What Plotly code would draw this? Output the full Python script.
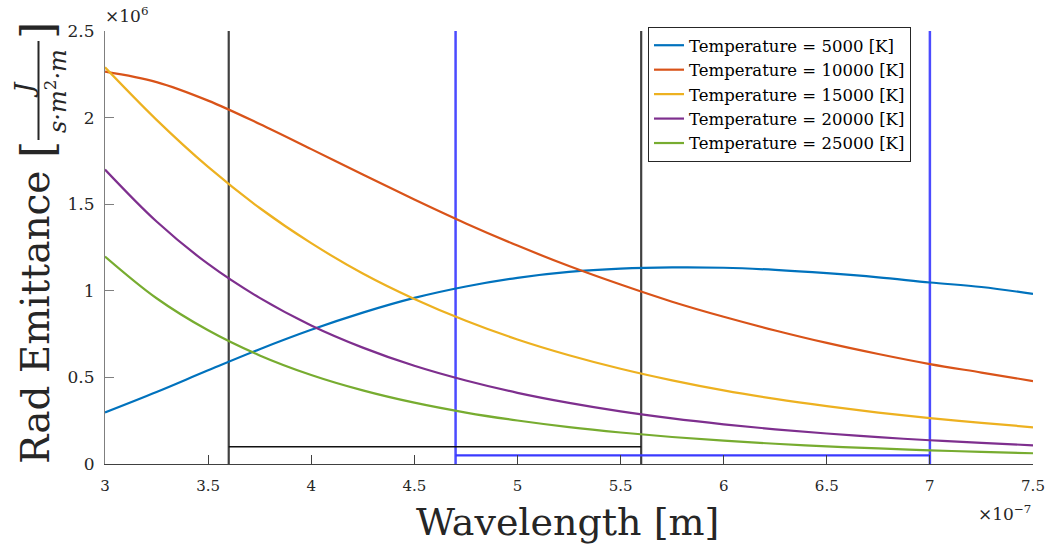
import plotly.graph_objects as go

# wavelength in units of 1e-7 m
wavelength = [3.0, 3.25, 3.5, 3.75, 4.0, 4.25, 4.5, 4.75, 5.0, 5.25, 5.5, 5.75,
              6.0, 6.25, 6.5, 6.75, 7.0, 7.25, 7.5]
# radiant emittance in units of 1e6
t5000 = [0.298, 0.416, 0.541, 0.663, 0.775, 0.874, 0.959, 1.025, 1.075, 1.109, 1.128, 1.135,
         1.133, 1.121, 1.102, 1.078, 1.048, 1.022, 0.982]
t10000 = [2.265, 2.205, 2.098, 1.963, 1.818, 1.671, 1.527, 1.389, 1.261, 1.143, 1.036, 0.937,
          0.850, 0.771, 0.699, 0.635, 0.577, 0.528, 0.479]
t15000 = [2.290, 1.987, 1.715, 1.478, 1.275, 1.100, 0.953, 0.827, 0.719, 0.628, 0.550, 0.483,
          0.425, 0.376, 0.334, 0.297, 0.265, 0.238, 0.212]
t20000 = [1.700, 1.400, 1.155, 0.959, 0.800, 0.672, 0.567, 0.482, 0.411, 0.353, 0.304, 0.263,
          0.229, 0.200, 0.176, 0.155, 0.137, 0.122, 0.108]
t25000 = [1.198, 0.957, 0.772, 0.627, 0.514, 0.425, 0.354, 0.297, 0.251, 0.213, 0.182, 0.156,
          0.135, 0.117, 0.102, 0.090, 0.079, 0.070, 0.062]
series_names = ["Temperature = 5000 [K]", "Temperature = 10000 [K]", "Temperature = 15000 [K]",
                "Temperature = 20000 [K]", "Temperature = 25000 [K]"]
series_colors = ["#0072BD", "#D95319", "#EDB120", "#7E2F8E", "#77AC30"]

# band markers
gray_band = [3.6, 5.6]
gray_band_level = 0.1
blue_band = [4.7, 7.0]
blue_band_level = 0.05
y_top = 2.5

x_ticks = [3, 3.5, 4, 4.5, 5, 5.5, 6, 6.5, 7, 7.5]
x_tick_text = ["3", "3.5", "4", "4.5", "5", "5.5", "6", "6.5", "7", "7.5"]
y_ticks = [0, 0.5, 1, 1.5, 2, 2.5]
y_tick_text = ["0", "0.5", "1", "1.5", "2", "2.5"]

SERIF = "DejaVu Serif"
TXT = "#262626"
fig = go.Figure()

# vertical band lines
for xv in gray_band:
    fig.add_trace(go.Scatter(x=[xv, xv], y=[0, y_top], mode="lines",
                             line=dict(color="#404040", width=2.2), showlegend=False, hoverinfo="skip"))
for xv in blue_band:
    fig.add_trace(go.Scatter(x=[xv, xv], y=[0, y_top], mode="lines",
                             line=dict(color="#4B4BFF", width=2.5), showlegend=False, hoverinfo="skip"))
fig.add_trace(go.Scatter(x=gray_band, y=[gray_band_level] * 2, mode="lines",
                         line=dict(color="#111111", width=1.6), showlegend=False, hoverinfo="skip"))
fig.add_trace(go.Scatter(x=blue_band, y=[blue_band_level] * 2, mode="lines",
                         line=dict(color="#3A3AFF", width=2.2), showlegend=False, hoverinfo="skip"))

for name, ys, col in zip(series_names, [t5000, t10000, t15000, t20000, t25000], series_colors):
    fig.add_trace(go.Scatter(x=wavelength, y=ys, mode="lines", name=name,
                             line=dict(color=col, width=2.2, shape="spline", smoothing=1.0)))

L, R, T, B = 105, 17, 31, 90
W, H = 1050, 554
pw, ph = W - L - R, H - T - B
def px(xp):
    return (xp - L) / pw
def py(yp):
    return (H - B - yp) / ph

fig.update_layout(
    width=W, height=H,
    margin=dict(l=L, r=R, t=T, b=B, autoexpand=False),
    paper_bgcolor="white", plot_bgcolor="white",
    font=dict(family=SERIF, size=16, color=TXT),
    legend=dict(x=px(648), y=py(27), xanchor="left", yanchor="top",
                bgcolor="white", bordercolor="#262626", borderwidth=1,
                font=dict(family=SERIF, size=16.5, color="#000000"),
                tracegroupgap=0, itemwidth=30),
    xaxis=dict(range=[3, 7.5], tickvals=x_ticks, ticktext=x_tick_text, ticks="inside",
               ticklen=9, tickcolor="#404040", showline=True, linecolor="#404040", linewidth=1,
               showgrid=False, zeroline=False, ticklabelstandoff=8, automargin=False,
               ticklabeloverflow="allow",
               tickfont=dict(family=SERIF, size=15, color=TXT)),
    yaxis=dict(range=[0, 2.5], tickvals=y_ticks, ticktext=y_tick_text, ticks="inside",
               ticklen=9, tickcolor="#7f7f7f", showline=True, linecolor="#7f7f7f", linewidth=1,
               showgrid=False, zeroline=False, ticklabelstandoff=6, automargin=False,
               tickfont=dict(family=SERIF, size=17, color=TXT)),
)

def note(text, x, y, size, angle=0):
    return dict(text=text, x=px(x), y=py(y), xref="paper", yref="paper",
                xanchor="center", yanchor="middle", showarrow=False, textangle=angle,
                font=dict(family=SERIF, size=size, color=TXT))

ann = [
    note("Wavelength [m]", 567, 522, 38),
    note("Rad Emittance", 35, 318, 39, -90),
    note("[", 37, 150, 44, -90),
    note("]", 37, 31, 44, -90),
    note("<i>J</i>", 24, 90, 26, -90),
    note("<i>s·m</i><sup>2</sup><i>·m</i>", 56, 91, 24, -90),
    note("×10<sup>6</sup>", 126, 15, 17),
    note("×10<sup>−7</sup>", 1004, 513, 17),
]
fig.update_layout(annotations=ann)
fig.add_shape(type="line", xref="paper", yref="paper", x0=px(38.5), x1=px(38.5),
              y0=py(41), y1=py(140), line=dict(color=TXT, width=2))

fig.write_html("out.html")
